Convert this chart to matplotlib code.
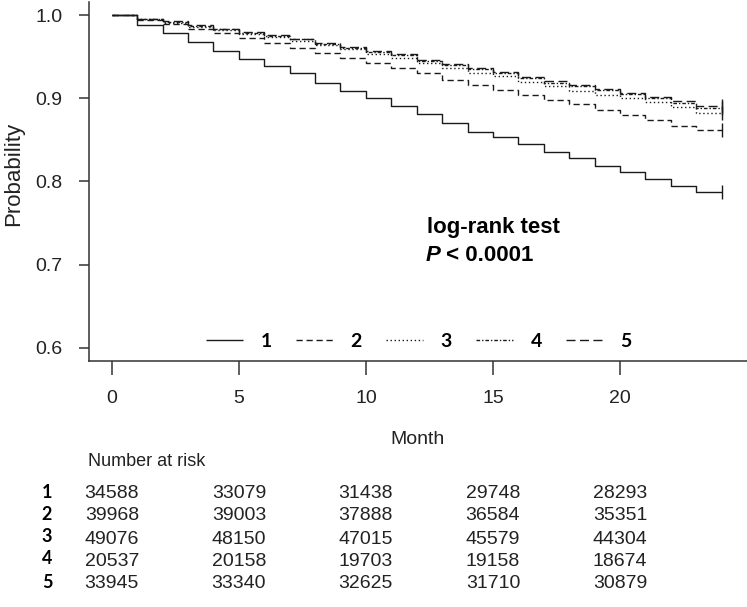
import numpy as np
import matplotlib.pyplot as plt
from matplotlib.transforms import blended_transform_factory

# survival estimates per month interval [k, k+1)
months = np.arange(0, 25)
surv1 = [1.000, 0.988, 0.979, 0.968, 0.957, 0.948, 0.939, 0.930, 0.918, 0.909, 0.900, 0.891,
         0.881, 0.870, 0.860, 0.853, 0.845, 0.836, 0.828, 0.819, 0.811, 0.803, 0.794, 0.787]
surv2 = [1.000, 0.994, 0.989, 0.984, 0.979, 0.973, 0.967, 0.961, 0.955, 0.949, 0.943, 0.937,
         0.931, 0.922, 0.916, 0.910, 0.904, 0.898, 0.893, 0.886, 0.880, 0.874, 0.867, 0.862]
surv3 = [1.000, 0.995, 0.991, 0.986, 0.982, 0.978, 0.974, 0.969, 0.964, 0.959, 0.954, 0.949,
         0.942, 0.937, 0.931, 0.927, 0.920, 0.915, 0.909, 0.904, 0.900, 0.896, 0.890, 0.883]
surv4 = [1.000, 0.995, 0.992, 0.987, 0.983, 0.979, 0.975, 0.971, 0.966, 0.961, 0.956, 0.952,
         0.945, 0.940, 0.935, 0.930, 0.924, 0.919, 0.915, 0.910, 0.905, 0.900, 0.895, 0.889]
surv5 = [1.000, 0.996, 0.993, 0.988, 0.984, 0.980, 0.976, 0.972, 0.967, 0.962, 0.957, 0.953,
         0.946, 0.941, 0.936, 0.932, 0.926, 0.921, 0.916, 0.911, 0.907, 0.902, 0.897, 0.891]

groups = ['1', '2', '3', '4', '5']
risk_times = [0, 5, 10, 15, 20]
risk1 = [34588, 33079, 31438, 29748, 28293]
risk2 = [39968, 39003, 37888, 36584, 35351]
risk3 = [49076, 48150, 47015, 45579, 44304]
risk4 = [20537, 20158, 19703, 19158, 18674]
risk5 = [33945, 33340, 32625, 31710, 30879]

plt.rcParams['font.family'] = ['Liberation Sans Narrow', 'Liberation Sans', 'DejaVu Sans']
bold_sans = ['Liberation Sans', 'DejaVu Sans']
calib = ['Lato', 'DejaVu Sans']

line_col = '#1a1a1a'
txt_col = '#222222'
styles = [(0, ()), (0, (4.5, 2.7)), (0, (1.0, 1.9)), (0, (2.6, 1.4, 1.0, 1.4)), (0, (6.5, 3.2))]

fig = plt.figure(figsize=(7.47, 6.07), dpi=100)
ax = fig.add_axes([0.1191, 0.4053, 0.8809, 0.5914])

for s, ls, g in zip([surv1, surv2, surv3, surv4, surv5], styles, groups):
    y = list(s) + [s[-1]]
    ax.step(months, y, where='post', color=line_col, lw=1.0, linestyle=ls, label=g)
    ax.plot([months[-1]], [s[-1]], marker='|', ms=10, mew=1.0, color=line_col)

ax.set_xlim(-0.9, 25.0)
ax.set_ylim(0.584, 1.016)
ax.set_xticks([0, 5, 10, 15, 20])
ax.set_yticks([0.6, 0.7, 0.8, 0.9, 1.0])
ax.set_yticklabels(['0.6', '0.7', '0.8', '0.9', '1.0'])
for side in ['top', 'right']:
    ax.spines[side].set_visible(False)
for side in ['left', 'bottom']:
    ax.spines[side].set_color('#333333')
    ax.spines[side].set_linewidth(1.1)
ax.tick_params(axis='x', length=10, width=1.1, color='#333333', pad=11,
               labelsize=14, labelcolor=txt_col)
ax.tick_params(axis='y', length=7, width=1.1, color='#333333', pad=12,
               labelsize=14, labelcolor=txt_col)
ax.set_xlabel('Month', fontsize=14, color=txt_col, labelpad=17)
ax.set_ylabel('Probability', fontsize=16, color=txt_col)
ax.yaxis.set_label_coords(-0.099, 0.52)

ax.text(0.513, 0.356, 'log-rank test', transform=ax.transAxes, fontsize=16,
        fontweight='bold', family=bold_sans, va='baseline')
ptxt = ax.text(0.511, 0.278, 'P', transform=ax.transAxes, fontsize=16, fontweight='bold',
               fontstyle='italic', family=bold_sans, va='baseline')
ax.annotate(' < 0.0001', xy=(1, 0), xycoords=ptxt, va='bottom', fontsize=16,
            fontweight='bold', family=bold_sans)

ax.legend(ncol=5, loc='center', bbox_to_anchor=(0.5015, 0.054), frameon=False,
          handlelength=1.9, handletextpad=0.9, columnspacing=1.25,
          prop={'family': calib, 'weight': 'bold', 'size': 14})

# number at risk table
tr = blended_transform_factory(ax.transData, fig.transFigure)
fig.text(88 / 747, 1 - 462 / 607, 'Number at risk', fontsize=13, color=txt_col, va='center')
row_y = [494, 516, 539, 561, 584]
for g, r, yy in zip(groups, [risk1, risk2, risk3, risk4, risk5], row_y):
    fig.text(47 / 747, 1 - (yy - 2) / 607, g, fontsize=13, fontweight='bold',
             family=calib, ha='center', va='center')
    for t, n in zip(risk_times, r):
        ax.text(t, 1 - yy / 607, str(n), transform=tr, fontsize=14, color=txt_col,
                ha='center', va='center', clip_on=False)

fig.savefig('out.png', dpi=100)
